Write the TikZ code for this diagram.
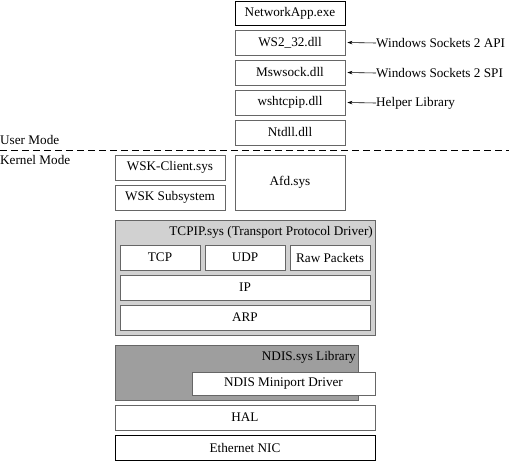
\documentclass[tikz,border=0pt]{standalone}
\usepackage{fontspec}
\setmainfont{Liberation Serif}
\usetikzlibrary{arrows.meta}
\begin{document}
\begin{tikzpicture}[x=1pt,y=-1pt,
  txt/.style={font=\fontsize{13.2}{15}\selectfont},
  box/.style={txt,draw=black!60,line width=0.8pt,fill=white,minimum width=110pt,minimum height=25pt,inner sep=0pt},
  strongbox/.style={box,draw=black,line width=0.9pt},
  grp/.style={draw=black!60,line width=0.8pt,inner sep=0pt},
  lbl/.style={txt,inner sep=0pt,anchor=west},
  arr/.style={-{Stealth[length=5pt,width=3.5pt]},line width=0.6pt}]
\useasboundingbox (0,0) rectangle (509,461);
% user mode stack
\node[strongbox,minimum height=24pt] (app) at (290,13) {NetworkApp.exe};
\node[box] (ws2) at (290,42.5) {WS2\_32.dll};
\node[box] (msw) at (290,72.5) {Mswsock.dll};
\node[box] (wsh) at (290,102.5) {wshtcpip.dll};
\node[box] (ntd) at (290,132.5) {Ntdll.dll};
% side labels
\node[lbl] (api) at (376,43) {Windows Sockets 2 API};
\node[lbl] (spi) at (376,73) {Windows Sockets 2 SPI};
\node[lbl] (hlp) at (376,103) {Helper Library};
\draw[arr] (api.west) -- ([xshift=2pt]ws2.east);
\draw[arr] (spi.west) -- ([xshift=2pt]msw.east);
\draw[arr] (hlp.west) -- ([xshift=2pt]wsh.east);
% mode divider
\node[lbl] (um) at (0,140) {User Mode};
\node[lbl] (km) at (0,160) {Kernel Mode};
\coordinate (dl) at (0,150);
\coordinate (dr) at (509,150);
\draw[dash pattern=on 7pt off 4pt,line width=0.9pt] (dl) -- (dr);
% kernel
\node[box] (wskc) at (170,167.5) {WSK-Client.sys};
\node[box] (wsks) at (170,197.5) {WSK Subsystem};
\node[box,minimum height=55pt] (afd) at (290,182.5) {Afd.sys};
% TCPIP
\node[grp,fill=black!18,minimum width=260pt,minimum height=115pt] (tcpip) at (245,277.5) {};
\node[txt,inner sep=0pt,anchor=east] (tcpipt) at (373,232) {TCPIP.sys (Transport Protocol Driver)};
\node[box,minimum width=80pt] (tcp) at (160,257.5) {TCP};
\node[box,minimum width=80pt] (udp) at (245,257.5) {UDP};
\node[box,minimum width=80pt] (raw) at (330,257.5) {Raw Packets};
\node[box,minimum width=250pt] (ip) at (245,287.5) {IP};
\node[box,minimum width=250pt] (arp) at (245,317.5) {ARP};
% NDIS
\node[grp,fill=black!38,minimum width=243pt,minimum height=55pt] (ndis) at (236.5,372.5) {};
\node[txt,inner sep=0pt,anchor=east] (ndist) at (356,357) {NDIS.sys Library};
\node[box,minimum width=183pt,minimum height=23pt] (mini) at (283.5,383.5) {NDIS Miniport Driver};
\node[box,minimum width=260pt] (hal) at (245,417.5) {HAL};
\node[strongbox,minimum width=260pt] (nic) at (245,447.5) {Ethernet NIC};
\end{tikzpicture}
\end{document}
